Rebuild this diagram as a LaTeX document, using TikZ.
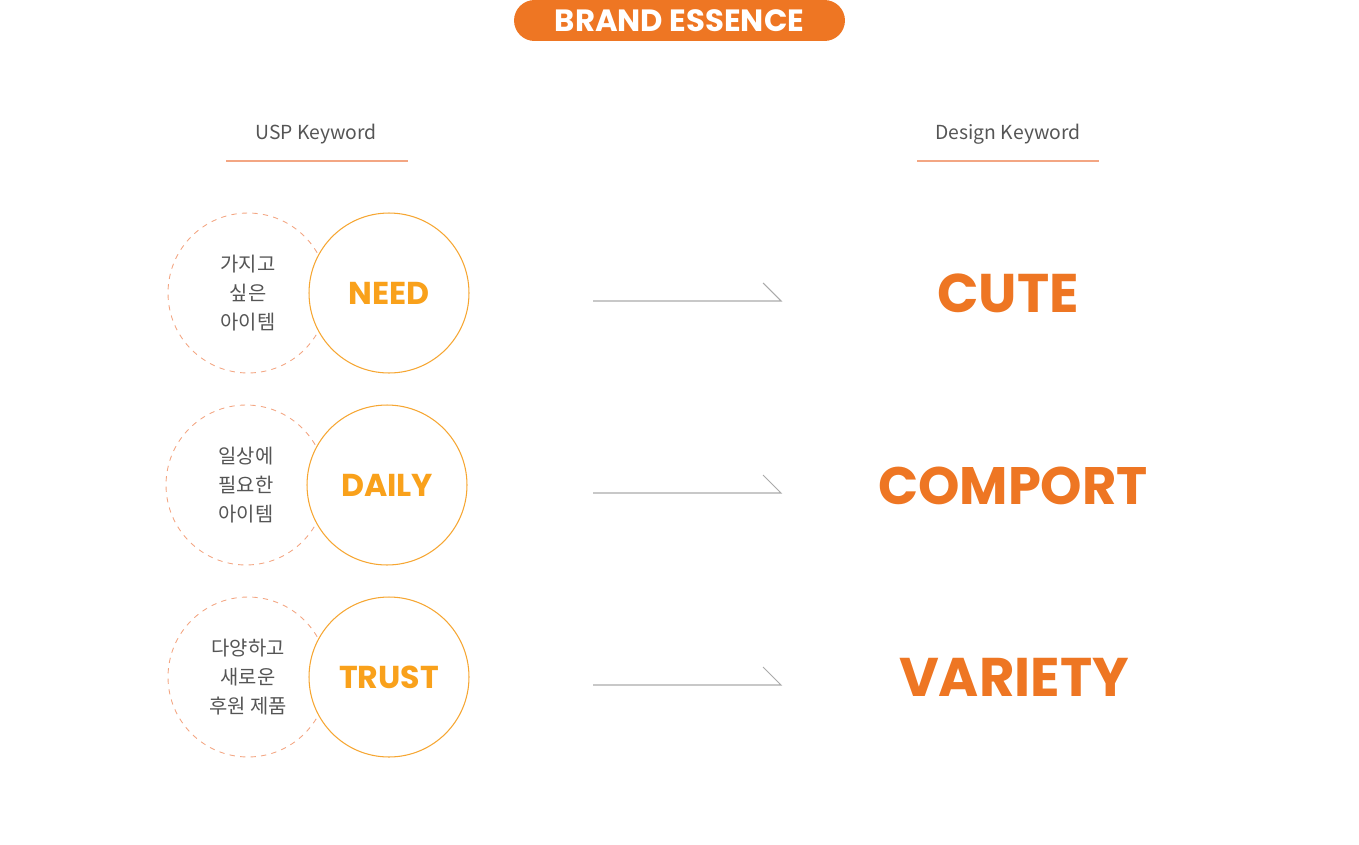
\documentclass[tikz,border=0pt]{standalone}
\usepackage{fontspec}
\setmainfont{Noto Sans CJK KR}
\newfontfamily\heavy{Poppins}
\usetikzlibrary{positioning}
\definecolor{brand}{HTML}{EE7623}
\definecolor{gold}{HTML}{F9A11B}
\definecolor{ring}{HTML}{F6A632}
\definecolor{peach}{HTML}{F3A683}
\definecolor{ink}{HTML}{555555}
\definecolor{steel}{HTML}{AAAAAA}
\tikzset{
  pill/.style ={fill=brand, rounded corners=0.41cm, minimum width=6.62cm, minimum height=0.82cm, inner sep=0pt, text=white, font=\heavy\bfseries\fontsize{17.5}{18}\selectfont},
  head/.style ={text=ink, inner sep=0pt, font=\fontsize{11}{12}\selectfont},
  rule/.style ={draw=peach, line width=0.6pt},
  usp/.style  ={circle, draw=peach, dashed, line width=0.5pt, minimum size=3.2cm, inner sep=0pt, text=ink, align=center, font=\fontsize{11.3}{16.4}\selectfont},
  word/.style ={circle, draw=ring, fill=white, line width=0.6pt, minimum size=3.2cm, inner sep=0pt, text=gold, font=\heavy\bfseries\fontsize{18}{20}\selectfont},
  arr/.style  ={draw=steel, line width=0.6pt},
  key/.style  ={text=brand, inner sep=0pt, font=\heavy\bfseries\fontsize{31}{34}\selectfont},
}
\begin{document}
\begin{tikzpicture}[x=0.02cm, y=-0.02cm]
  \useasboundingbox (0,0) rectangle (1359,845);
  \node[pill] (title) at (679.5,20.5) {BRAND ESSENCE};

  \node[head] (usphead) at (316,134) {USP Keyword};
  \node[head] (dsnhead) at (1008,134) {Design Keyword};
  \draw[rule] (226,161) -- (408,161);
  \draw[rule] (917,161) -- (1099,161);

  % row 1
  \node[usp]  (u1) at (248,293) {가지고\\싶은\\아이템};
  \node[word] (w1) at (389,293) {NEED};
  \coordinate (a1) at (593,301);
  \coordinate (b1) at (781,301);
  \draw[arr] (a1) -- (b1) -- ++(-18,-18);
  \node[key]  (k1) at (1008,293) {CUTE};

  % row 2
  \node[usp]  (u2) at (246,485) {일상에\\필요한\\아이템};
  \node[word] (w2) at (387,485) {DAILY};
  \coordinate (a2) at (593,493);
  \coordinate (b2) at (781,493);
  \draw[arr] (a2) -- (b2) -- ++(-18,-18);
  \node[key, font=\heavy\bfseries\fontsize{30}{34}\selectfont] (k2) at (1013,486) {COMPORT};

  % row 3
  \node[usp]  (u3) at (248,677) {다양하고\\새로운\\후원 제품};
  \node[word] (w3) at (389,677) {TRUST};
  \coordinate (a3) at (593,685);
  \coordinate (b3) at (781,685);
  \draw[arr] (a3) -- (b3) -- ++(-18,-18);
  \node[key]  (k3) at (1014,677) {VARIETY};
\end{tikzpicture}
\end{document}
